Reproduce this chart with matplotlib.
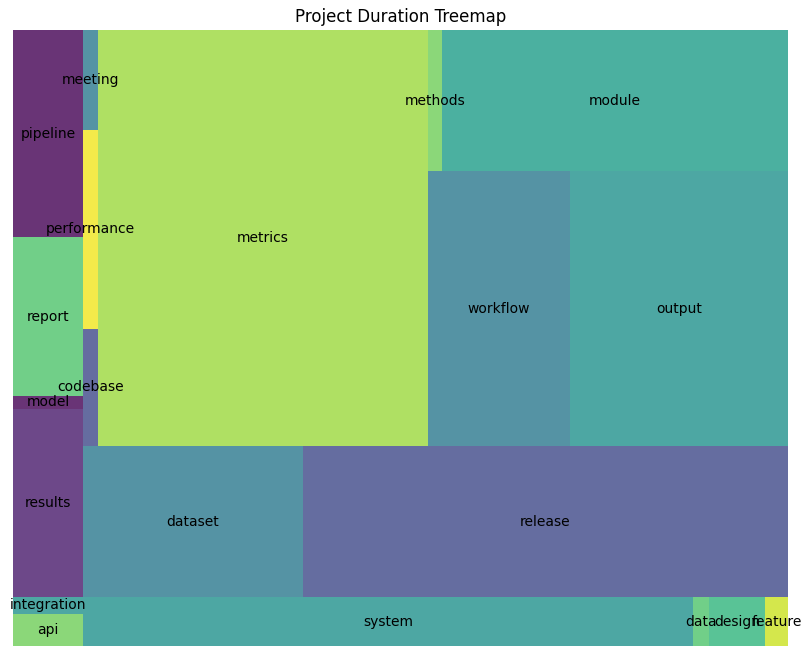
"""
Treemap of project durations, laid out with a small squarify routine.
"""

import matplotlib
matplotlib.use('Agg')
import matplotlib.pyplot as plt

# data, in plotting order
labels = ['api', 'integration', 'results', 'model', 'report', 'pipeline',
          'system', 'data', 'design', 'feature', 'dataset', 'release',
          'codebase', 'performance', 'meeting', 'metrics', 'workflow',
          'output', 'methods', 'module']
durations = [22.4, 11.9, 131.6, 9.1, 111.3, 144.9,
             298.9, 7.8, 27.4, 11.3, 332.2, 732.4,
             17.6, 29.9, 15.0, 1372.8, 390.5,
             599.5, 19.7, 487.9]
# position of each box on the viridis colormap
shades = [0.78, 0.50, 0.07, 0.0, 0.72, 0.0,
          0.50, 0.72, 0.65, 0.92, 0.40, 0.22,
          0.22, 0.98, 0.40, 0.85, 0.40,
          0.50, 0.78, 0.55]


def layout(sizes, x, y, dx, dy):
    rects = []
    if dx >= dy:
        width = sum(sizes) / dy
        for s in sizes:
            rects.append((x, y, width, s / width))
            y += s / width
    else:
        height = sum(sizes) / dx
        for s in sizes:
            rects.append((x, y, s / height, height))
            x += s / height
    return rects


def leftover(sizes, x, y, dx, dy):
    if dx >= dy:
        width = sum(sizes) / dy
        return x + width, y, dx - width, dy
    height = sum(sizes) / dx
    return x, y + height, dx, dy - height


def worst(sizes, x, y, dx, dy):
    return max(max(w / h, h / w) for (_, _, w, h) in layout(sizes, x, y, dx, dy))


def squarify(sizes, x, y, dx, dy):
    if len(sizes) == 0:
        return []
    if len(sizes) == 1:
        return layout(sizes, x, y, dx, dy)
    i = 1
    while i < len(sizes) and worst(sizes[:i], x, y, dx, dy) >= worst(sizes[:i + 1], x, y, dx, dy):
        i += 1
    cur, rest = sizes[:i], sizes[i:]
    lx, ly, ldx, ldy = leftover(cur, x, y, dx, dy)
    return layout(cur, x, y, dx, dy) + squarify(rest, lx, ly, ldx, ldy)


total = sum(durations)
norm = [d * 100 * 100 / total for d in durations]
rects = squarify(norm, 0, 0, 100, 100)

cmap = plt.get_cmap('viridis')
colors = [cmap(s) for s in shades]

fig = plt.figure(figsize=(8.11, 6.56), dpi=100)
ax = fig.add_axes([13 / 811, 10 / 656, 775 / 811, 616 / 656])
ax.bar([r[0] for r in rects], [r[3] for r in rects], width=[r[2] for r in rects],
       bottom=[r[1] for r in rects], color=colors, align='edge', alpha=0.8)
for r, lab in zip(rects, labels):
    ax.text(r[0] + r[2] / 2, r[1] + r[3] / 2, lab, va='center', ha='center')
ax.set_xlim(0, 100)
ax.set_ylim(0, 100)
ax.axis('off')
ax.set_title('Project Duration Treemap')

plt.savefig('out.png', dpi=100)
